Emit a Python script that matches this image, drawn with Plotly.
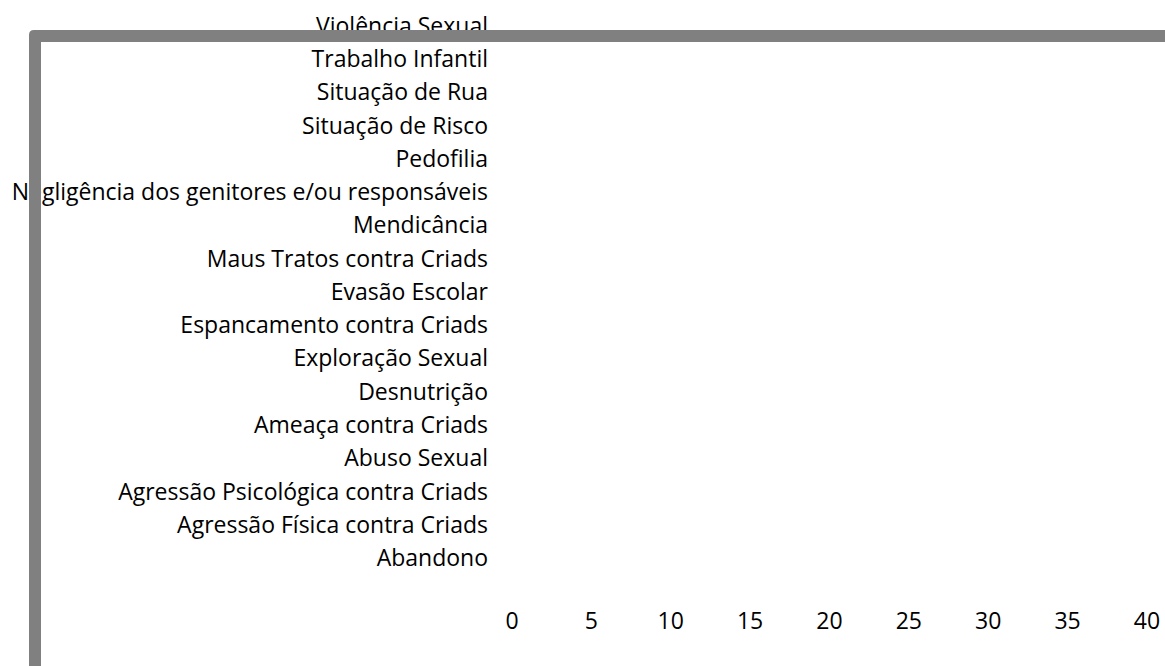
import plotly.graph_objects as go

categories = [
    "Abandono",
    "Agressão Física contra Criads",
    "Agressão Psicológica contra Criads",
    "Abuso Sexual",
    "Ameaça contra Criads",
    "Desnutrição",
    "Exploração Sexual",
    "Espancamento contra Criads",
    "Evasão Escolar",
    "Maus Tratos contra Criads",
    "Mendicância",
    "Negligência dos genitores e/ou responsáveis",
    "Pedofilia",
    "Situação de Risco",
    "Situação de Rua",
    "Trabalho Infantil",
    "Violência Sexual",
]
# the reference chart shows no bars (no recorded values)
values = [None] * len(categories)
x_ticks = [0, 5, 10, 15, 20, 25, 30, 35, 40]

W, H = 1165, 666
ML, MR, MT, MB = 512, 18, 9, 61
PW = W - ML - MR
PH = H - MT - MB


def px(x):
    return (x - ML) / PW


def py(y):
    return (H - MB - y) / PH


fig = go.Figure(
    go.Bar(
        y=categories,
        x=values,
        orientation="h",
        marker_color="#4472C4",
        showlegend=False,
    )
)

# decorative grey frame (rounded top-left corner, runs off canvas right/bottom)
o_l, o_t, th, r = 29, 30, 12, 5
path = (
    f"M {px(o_l)},{py(700)} "
    f"L {px(o_l)},{py(o_t + r)} "
    f"Q {px(o_l)},{py(o_t)} {px(o_l + r)},{py(o_t)} "
    f"L {px(1200)},{py(o_t)} "
    f"L {px(1200)},{py(o_t + th)} "
    f"L {px(o_l + th)},{py(o_t + th)} "
    f"L {px(o_l + th)},{py(700)} Z"
)
fig.add_shape(
    type="path",
    path=path,
    xref="paper",
    yref="paper",
    fillcolor="#808080",
    line=dict(width=0),
    layer="above",
)

FS = 23
fig.update_layout(
    width=W,
    height=H,
    margin=dict(l=ML, r=MR, t=MT, b=MB, autoexpand=False),
    paper_bgcolor="white",
    plot_bgcolor="white",
    font=dict(family="Open Sans", size=FS, color="black"),
    bargap=0.5,
)
fig.update_xaxes(
    range=[0, 40],
    tickvals=x_ticks,
    showgrid=False,
    zeroline=False,
    showline=False,
    ticks="",
    tickfont=dict(size=FS),
)
fig.update_yaxes(
    type="category",
    categoryorder="array",
    categoryarray=categories,
    range=[-1.41, 16.5],
    showgrid=False,
    zeroline=False,
    showline=False,
    ticks="",
    ticklabelstandoff=23,
    tickfont=dict(size=FS),
)

fig.write_html(
    "out.html",
    config={"displayModeBar": False},
    post_script="document.body.style.margin='0';document.body.style.overflow='hidden';",
)
